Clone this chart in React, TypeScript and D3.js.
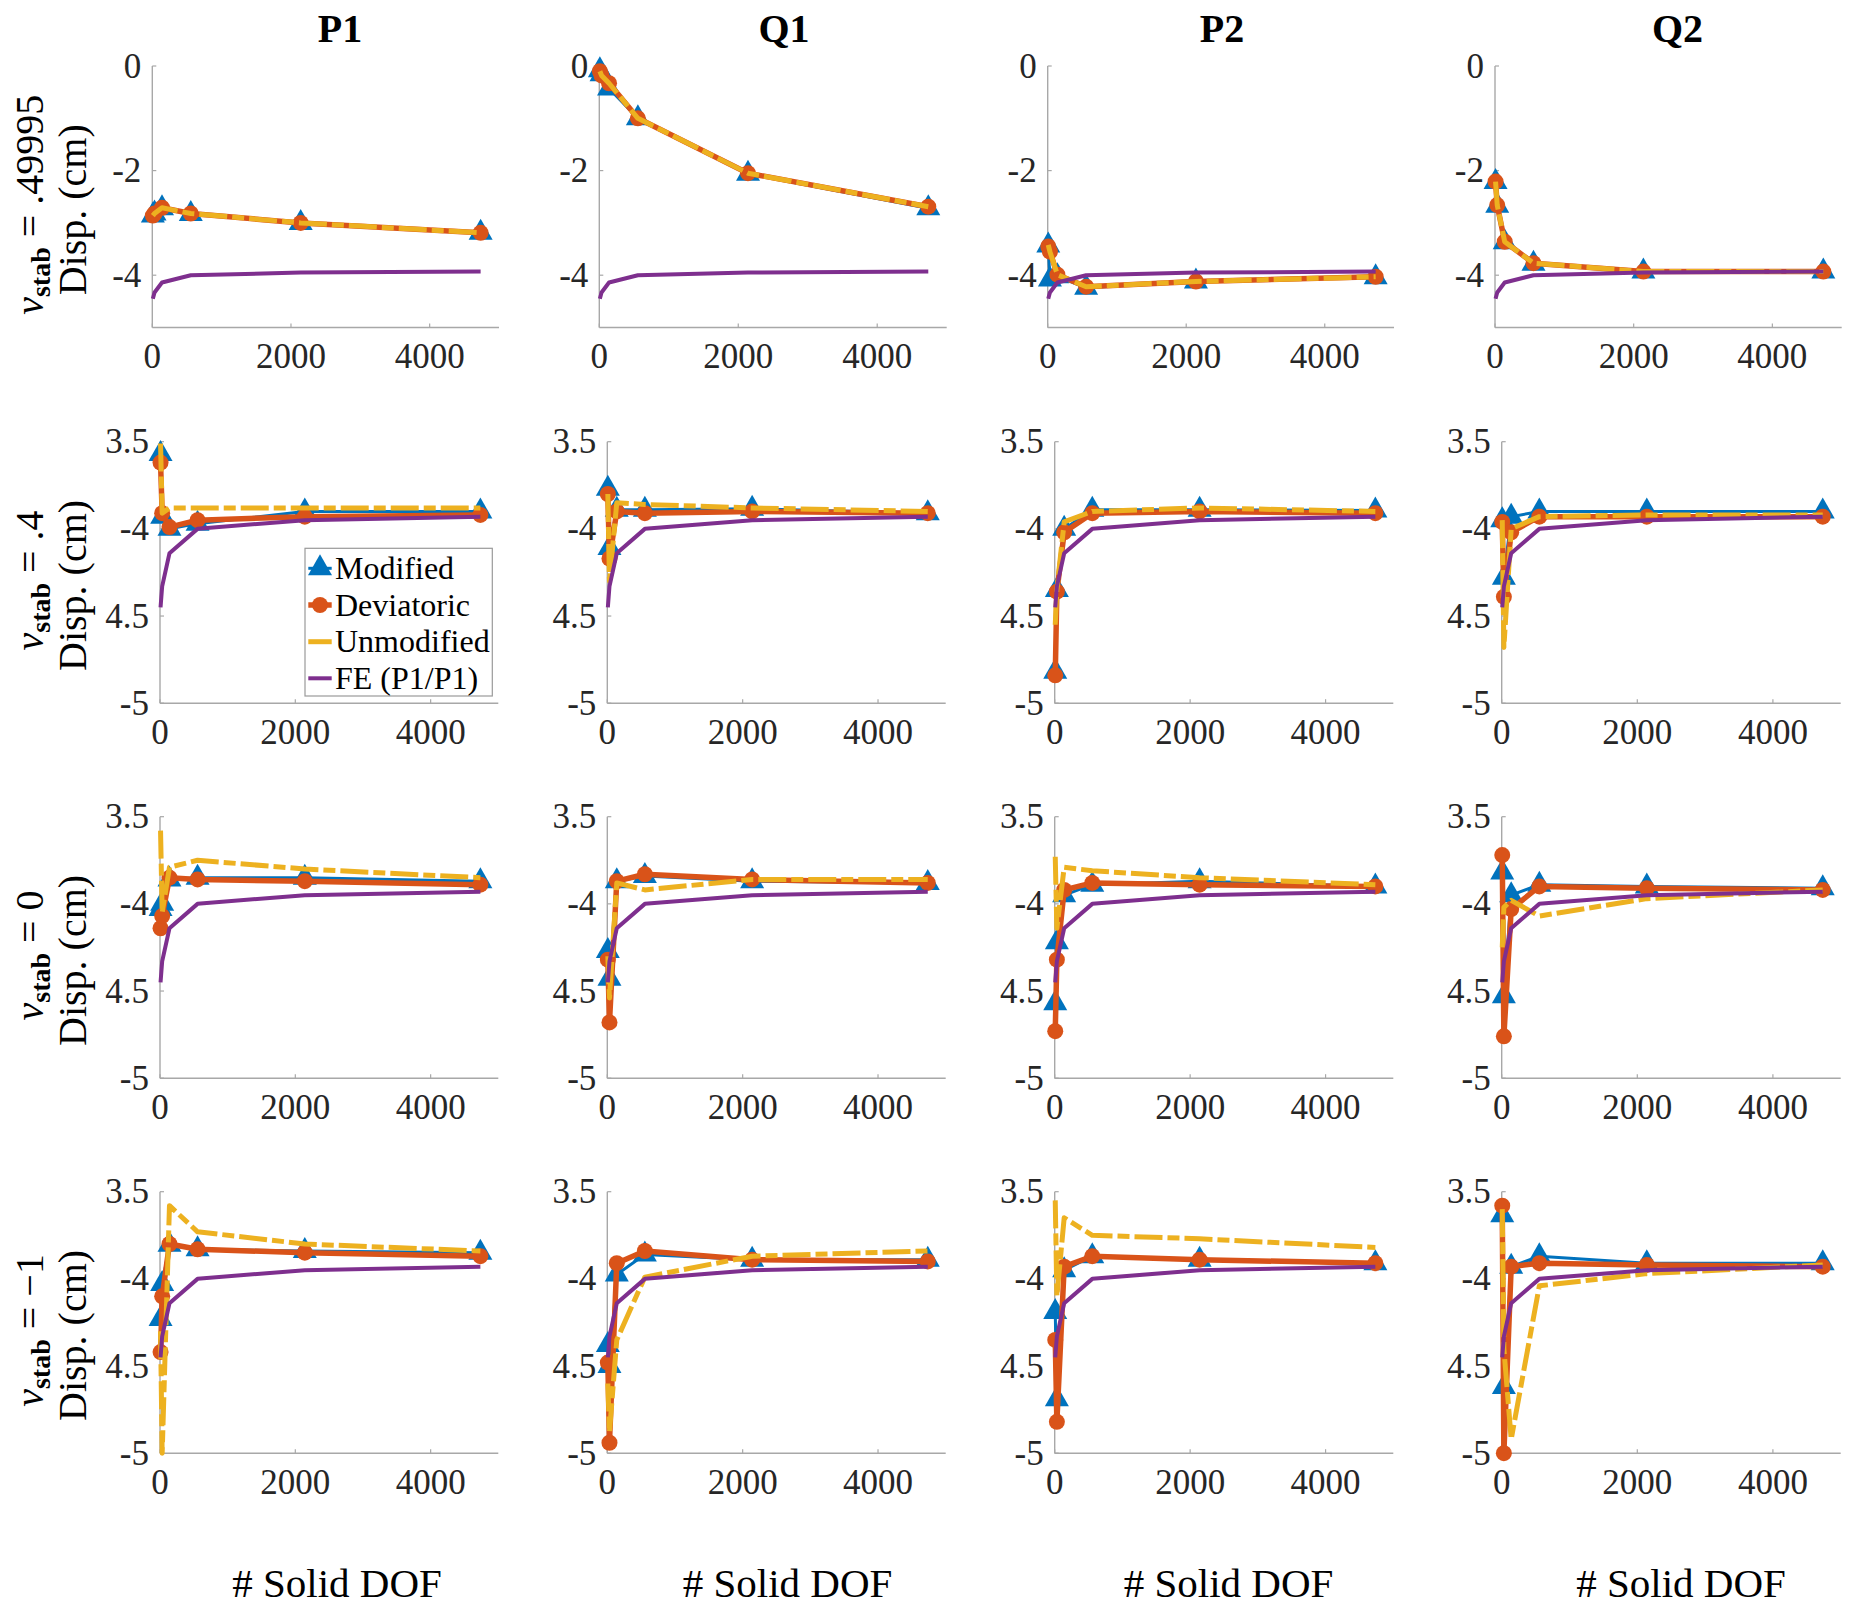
import React from "react";
import * as d3 from "d3";

// ---------------- data ----------------
const columnTitles = ["P1", "Q1", "P2", "Q2"];
const rowNuLabels = [".49995", ".4", "0", "\u22121"];
const xDof = [8, 32, 140, 555, 2140, 4735];
const xTicks = [0, 2000, 4000];
const yTicksRow1 = [0, -2, -4];
const yTickLabelsRow1 = ["0", "-2", "-4"];
const yTicksLower = [-3.5, -4, -4.5, -5];
const yTickLabelsLower = ["3.5", "-4", "4.5", "-5"];
const seriesNames = ["Modified", "Deviatoric", "Unmodified", "FE (P1/P1)"];

// FE (P1/P1) reference, identical in every panel
const feDisp = [-4.45, -4.33, -4.14, -4.0, -3.95, -3.93];

// nu_stab = .49995  (columns P1, Q1, P2, Q2)
const modifiedNu49995 = [
  [-2.86, -2.82, -2.72, -2.83, -3.0, -3.19],
  [-0.08, -0.16, -0.43, -1.0, -2.06, -2.72],
  [-3.43, -4.08, -4.02, -4.24, -4.12, -4.04],
  [-2.22, -2.67, -3.37, -3.78, -3.93, -3.93],
];
const deviatoricNu49995 = [
  [-2.86, -2.82, -2.71, -2.82, -3.0, -3.19],
  [-0.1, -0.18, -0.33, -1.0, -2.05, -2.69],
  [-3.45, -3.55, -3.99, -4.22, -4.12, -4.03],
  [-2.21, -2.66, -3.36, -3.77, -3.93, -3.93],
];
const unmodifiedNu49995 = [
  [-2.86, -2.82, -2.71, -2.82, -3.0, -3.19],
  [-0.1, -0.18, -0.33, -1.0, -2.05, -2.69],
  [-3.42, -3.55, -3.99, -4.22, -4.12, -4.03],
  [-2.21, -2.66, -3.36, -3.77, -3.93, -3.93],
];

// nu_stab = .4
const modifiedNu4 = [
  [-3.57, -3.93, -4.0, -3.97, -3.9, -3.9],
  [-3.77, -4.11, -3.89, -3.89, -3.885, -3.91],
  [-4.82, -4.35, -4.0, -3.89, -3.89, -3.895],
  [-3.95, -4.28, -3.93, -3.9, -3.9, -3.9],
];
const deviatoricNu4 = [
  [-3.62, -3.91, -3.99, -3.95, -3.93, -3.92],
  [-3.8, -4.17, -3.9, -3.91, -3.9, -3.91],
  [-4.84, -4.36, -4.02, -3.91, -3.9, -3.91],
  [-3.96, -4.39, -4.02, -3.93, -3.93, -3.93],
];
const unmodifiedNu4 = [
  [-3.51, -3.91, -3.88, -3.88, -3.88, -3.88],
  [-3.8, -4.3, -3.85, -3.86, -3.88, -3.9],
  [-4.55, -4.35, -3.96, -3.9, -3.88, -3.9],
  [-3.95, -4.68, -4.0, -3.93, -3.92, -3.92],
];

// nu_stab = 0
const modifiedNu0 = [
  [-4.03, -4.0, -3.86, -3.85, -3.85, -3.87],
  [-4.27, -4.43, -3.87, -3.84, -3.87, -3.88],
  [-4.57, -4.22, -3.95, -3.89, -3.87, -3.9],
  [-3.82, -4.53, -3.95, -3.89, -3.9, -3.91],
];
const deviatoricNu0 = [
  [-4.14, -4.07, -3.85, -3.86, -3.87, -3.89],
  [-4.32, -4.68, -3.87, -3.83, -3.86, -3.88],
  [-4.73, -4.32, -3.92, -3.88, -3.89, -3.9],
  [-3.72, -4.76, -4.03, -3.9, -3.91, -3.92],
];
const unmodifiedNu0 = [
  [-3.58, -4.05, -3.79, -3.75, -3.8, -3.85],
  [-4.3, -4.54, -3.88, -3.92, -3.86, -3.86],
  [-3.73, -4.14, -3.79, -3.81, -3.85, -3.89],
  [-4.25, -4.02, -3.98, -4.07, -3.97, -3.92],
];

// nu_stab = -1
const modifiedNuM1 = [
  [-4.23, -4.03, -3.805, -3.83, -3.84, -3.85],
  [-4.38, -4.5, -3.975, -3.86, -3.89, -3.89],
  [-4.19, -4.69, -3.95, -3.87, -3.89, -3.91],
  [-3.635, -4.62, -3.93, -3.87, -3.91, -3.91],
];
const deviatoricNuM1 = [
  [-4.42, -4.1, -3.8, -3.83, -3.85, -3.87],
  [-4.48, -4.94, -3.91, -3.84, -3.89, -3.9],
  [-4.35, -4.82, -3.93, -3.87, -3.89, -3.91],
  [-3.58, -5.0, -3.93, -3.91, -3.92, -3.93],
];
const unmodifiedNuM1 = [
  [-4.3, -5.0, -3.58, -3.73, -3.8, -3.84],
  [-4.6, -4.88, -4.35, -3.99, -3.87, -3.84],
  [-3.55, -4.1, -3.65, -3.75, -3.77, -3.82],
  [-3.6, -4.4, -4.92, -4.04, -3.97, -3.92],
];

const modifiedRows = [modifiedNu49995, modifiedNu4, modifiedNu0, modifiedNuM1];
const deviatoricRows = [deviatoricNu49995, deviatoricNu4, deviatoricNu0, deviatoricNuM1];
const unmodifiedRows = [unmodifiedNu49995, unmodifiedNu4, unmodifiedNu0, unmodifiedNuM1];

// ---------------- style / layout ----------------
const W = 1854;
const H = 1609;
const FONT = "Liberation Serif, Times New Roman, Times, serif";
const C_MOD = "#0072BD";
const C_DEV = "#D95319";
const C_UNM = "#EDB120";
const C_FE = "#7E2F8E";
const AXIS_C = "#a8a8a8";
const TEXT_C = "#262626";

const rowTops = [66, 441.7, 816.7, 1191.7];
const plotH = 261.5;
const lefts = [
  [152.3, 599.3, 1047.7, 1495],
  [160, 607.3, 1054.7, 1501.7],
];
const rights = [
  [499, 946.7, 1394, 1841.7],
  [498.3, 945.7, 1393.3, 1840.7],
];
const titleX = [340, 784, 1222, 1677.5];
const xlabelX = [337, 787.5, 1228.5, 1681];

// upward triangle marker, centroid at the data point
const tri = "M0,-14L12,7L-12,7Z";

function Panel({ r, c }: { r: number; c: number }) {
  const li = r === 0 ? 0 : 1;
  const x0 = lefts[li][c];
  const x1 = rights[li][c];
  const top = rowTops[r];
  const bottom = top + plotH;
  const x = d3.scaleLinear().domain([0, 5000]).range([x0, x1]);
  const y = d3
    .scaleLinear()
    .domain(r === 0 ? [-5, 0] : [-5, -3.5])
    .range([bottom, top]);
  const yTicks = r === 0 ? yTicksRow1 : yTicksLower;
  const yLabels = r === 0 ? yTickLabelsRow1 : yTickLabelsLower;
  const line = d3
    .line<number>()
    .x((_, i) => x(xDof[i]))
    .y((v) => y(v));
  const mod = modifiedRows[r][c];
  const dev = deviatoricRows[r][c];
  const unm = unmodifiedRows[r][c];
  return (
    <g>
      <line x1={x0} y1={top} x2={x0} y2={bottom} stroke={AXIS_C} strokeWidth={1.4} />
      <line x1={x0} y1={bottom} x2={x1} y2={bottom} stroke={AXIS_C} strokeWidth={1.4} />
      {xTicks.map((t) => (
        <g key={"xt" + t}>
          <line x1={x(t)} x2={x(t)} y1={bottom} y2={bottom - 4} stroke={AXIS_C} strokeWidth={1.2} />
          <text x={x(t)} y={bottom + 40.5} textAnchor="middle" fontSize={35} fill={TEXT_C} fontFamily={FONT}>
            {String(t)}
          </text>
        </g>
      ))}
      {yTicks.map((t, i) => (
        <g key={"yt" + t}>
          <line x1={x0} x2={x0 + 4} y1={y(t)} y2={y(t)} stroke={AXIS_C} strokeWidth={1.2} />
          <text x={x0 - 11} y={y(t) + 11.5} textAnchor="end" fontSize={35} fill={TEXT_C} fontFamily={FONT}>
            {yLabels[i]}
          </text>
        </g>
      ))}
      {/* Modified */}
      <path d={line(mod) || ""} fill="none" stroke={C_MOD} strokeWidth={3} strokeLinejoin="round" />
      {mod.map((v, i) => (
        <path key={"m" + i} d={tri} transform={`translate(${x(xDof[i])},${y(v)})`} fill={C_MOD} />
      ))}
      {/* Deviatoric */}
      <path d={line(dev) || ""} fill="none" stroke={C_DEV} strokeWidth={5.5} strokeLinejoin="round" />
      {dev.map((v, i) => (
        <circle key={"d" + i} cx={x(xDof[i])} cy={y(v)} r={8} fill={C_DEV} />
      ))}
      {/* Unmodified */}
      <path
        d={line(unm) || ""}
        fill="none"
        stroke={C_UNM}
        strokeWidth={5}
        strokeDasharray="28 5 12 5"
        strokeLinejoin="round"
      />
      {/* FE */}
      <path d={line(feDisp) || ""} fill="none" stroke={C_FE} strokeWidth={4} strokeLinejoin="round" />
    </g>
  );
}

function Legend() {
  const bx = 305;
  const by = 548.3;
  const bw = 187.3;
  const bh = 147.7;
  const rows = [568.3, 605, 641.7, 678.3];
  const lx0 = 308.3;
  const lx1 = 331.7;
  const mx = (lx0 + lx1) / 2;
  return (
    <g>
      <rect x={bx} y={by} width={bw} height={bh} fill="#ffffff" stroke="#9a9a9a" strokeWidth={1.2} />
      <line x1={lx0} x2={lx1} y1={rows[0]} y2={rows[0]} stroke={C_MOD} strokeWidth={3} />
      <path d={tri} transform={`translate(${mx},${rows[0]})`} fill={C_MOD} />
      <line x1={lx0} x2={lx1} y1={rows[1]} y2={rows[1]} stroke={C_DEV} strokeWidth={5.5} />
      <circle cx={mx} cy={rows[1]} r={8} fill={C_DEV} />
      <line x1={lx0} x2={lx1} y1={rows[2]} y2={rows[2]} stroke={C_UNM} strokeWidth={5} />
      <line x1={lx0} x2={lx1} y1={rows[3]} y2={rows[3]} stroke={C_FE} strokeWidth={4} />
      {seriesNames.map((s, i) => (
        <text key={s} x={335} y={rows[i] + 10.5} fontSize={32} fill="#000" fontFamily={FONT}>
          {s}
        </text>
      ))}
    </g>
  );
}

function RowLabel({ r }: { r: number }) {
  const cy = rowTops[r] + plotH / 2;
  return (
    <g>
      <text
        transform={`translate(43,${cy + 8}) rotate(-90)`}
        textAnchor="middle"
        fontSize={40}
        fill="#000"
        fontFamily={FONT}
      >
        <tspan fontStyle="italic">ν</tspan>
        <tspan fontWeight="bold" fontSize={28} dy={7}>
          stab
        </tspan>
        <tspan dy={-7}>{" = " + rowNuLabels[r]}</tspan>
      </text>
      <text
        transform={`translate(86,${cy + 13}) rotate(-90)`}
        textAnchor="middle"
        fontSize={40}
        fill="#000"
        fontFamily={FONT}
      >
        Disp. (cm)
      </text>
    </g>
  );
}

export default function App() {
  return (
    <svg
      width={W}
      height={H}
      viewBox={`0 0 ${W} ${H}`}
      style={{ position: "absolute", left: 0, top: 0, background: "#fff" }}
    >
      <rect x={0} y={0} width={W} height={H} fill="#fff" />
      {columnTitles.map((t, c) => (
        <text
          key={t}
          x={titleX[c]}
          y={41.7}
          textAnchor="middle"
          fontSize={40}
          fontWeight="bold"
          fill="#000"
          fontFamily={FONT}
        >
          {t}
        </text>
      ))}
      {[0, 1, 2, 3].map((r) => (
        <g key={"r" + r}>
          <RowLabel r={r} />
          {[0, 1, 2, 3].map((c) => (
            <Panel key={"p" + r + c} r={r} c={c} />
          ))}
        </g>
      ))}
      <Legend />
      {xlabelX.map((cx, c) => (
        <text key={"xl" + c} x={cx} y={1597} textAnchor="middle" fontSize={41} fill="#000" fontFamily={FONT}>
          # Solid DOF
        </text>
      ))}
    </svg>
  );
}
